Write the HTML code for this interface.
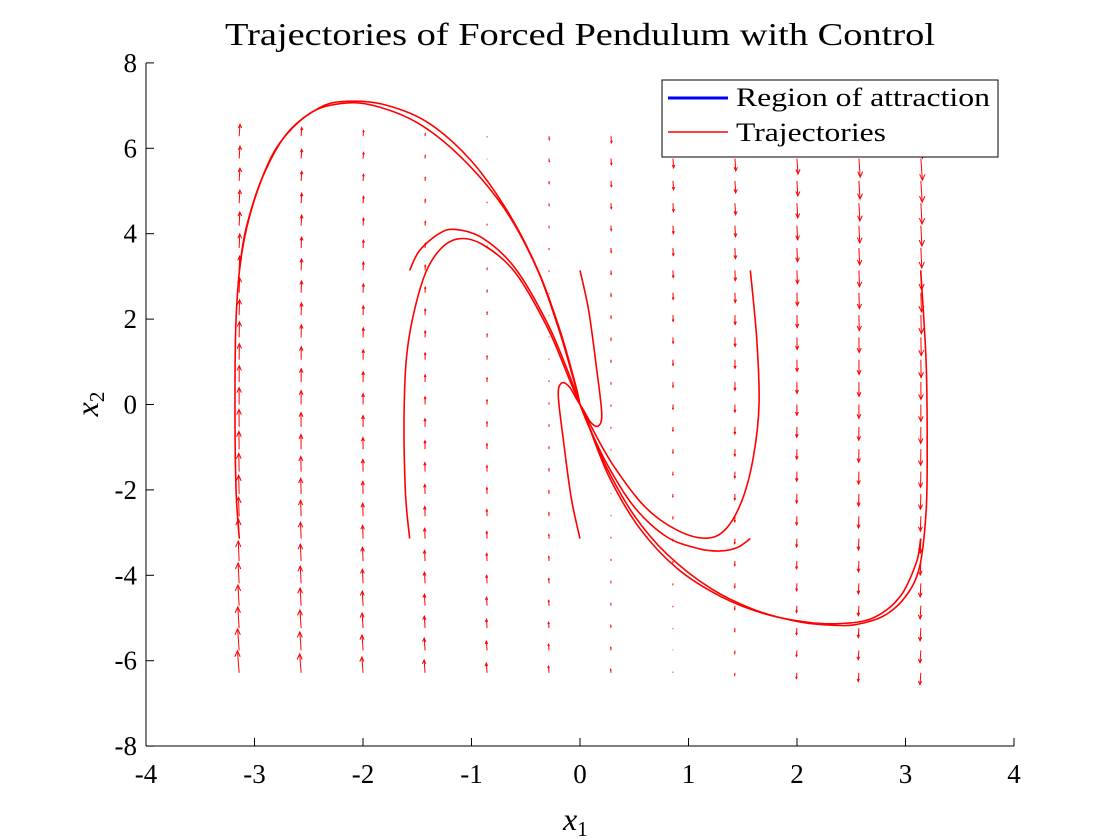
<!DOCTYPE html>
<html><head><meta charset="utf-8"><style>
html,body{margin:0;padding:0;background:#fff;}
svg{display:block;font-family:"Liberation Serif",serif;}
</style></head><body>
<svg id="chart" width="1120" height="840" viewBox="0 0 1120 840" xmlns="http://www.w3.org/2000/svg">
<rect width="1120" height="840" fill="#fff"/>
<text x="225" y="45" font-size="32" textLength="710" lengthAdjust="spacingAndGlyphs">Trajectories of Forced Pendulum with Control</text>
<g id="field"></g>
<g id="traj"></g>
<g id="axes"></g>
<text x="563" y="830" font-size="32" font-style="italic">x<tspan font-size="21" dy="6" font-style="normal">1</tspan></text>
<text transform="translate(98,404) rotate(-90)" font-size="32" font-style="italic" text-anchor="middle">x<tspan font-size="21" dy="6" font-style="normal">2</tspan></text>
<g>
<rect x="662" y="80" width="336" height="77" fill="#fff" stroke="#000" stroke-width="1"/>
<line x1="668" y1="98" x2="728" y2="98" stroke="#0000ff" stroke-width="3"/>
<text x="736" y="106" font-size="26" textLength="254" lengthAdjust="spacingAndGlyphs">Region of attraction</text>
<line x1="668" y1="132" x2="728" y2="132" stroke="#ff0000" stroke-width="1.5"/>
<text x="736" y="141" font-size="26" textLength="150" lengthAdjust="spacingAndGlyphs">Trajectories</text>
</g>
</svg>
<script>
const xTicks=[-4,-3,-2,-1,0,1,2,3,4];
const yTicks=[-8,-6,-4,-2,0,2,4,6,8];
const trajOuterA=[[-3.14,-3.14],[-3.17,-2],[-3.18,0],[-3.17,2],[-3.12,3.5],[-3.0,4.8],[-2.8,6.0],[-2.5,6.8],[-2.2,7.05],[-1.9,7.0],[-1.5,6.6],[-1.1,5.8],[-0.7,4.6],[-0.4,3.2],[-0.2,1.8],[-0.05,0.5],[0,0]];
const trajOuterB=[[-3.14,3.14],[-3.08,4.1],[-2.93,5.3],[-2.7,6.35],[-2.4,6.95],[-2.15,7.1],[-1.8,7.02],[-1.4,6.6],[-1.0,5.7],[-0.65,4.45],[-0.38,3.1],[-0.18,1.7],[-0.04,0.45],[0,0]];
const trajMidA=[[-1.57,3.14],[-1.48,3.6],[-1.3,4.0],[-1.15,4.1],[-0.9,3.9],[-0.6,3.2],[-0.3,1.9],[-0.1,0.7],[0,0]];
const trajMidB=[[-1.57,-3.14],[-1.61,-2],[-1.62,0],[-1.58,1.5],[-1.45,2.9],[-1.3,3.6],[-1.12,3.88],[-0.9,3.75],[-0.6,3.1],[-0.3,1.8],[-0.1,0.6],[0,0]];
const trajInnerA=[[0,3.14],[0.08,2.2],[0.15,0.9],[0.2,-0.2],[0.17,-0.5],[0.1,-0.42],[0.03,-0.12],[0,0]];
const trajInnerB=[[0,-3.14],[-0.08,-2.2],[-0.15,-0.9],[-0.2,0.2],[-0.17,0.5],[-0.1,0.42],[-0.03,0.12],[0,0]];
const trajMidC=[[1.57,3.14],[1.63,1.5],[1.65,0],[1.6,-1.2],[1.5,-2.2],[1.35,-2.9],[1.17,-3.13],[0.9,-2.95],[0.6,-2.4],[0.3,-1.4],[0.1,-0.5],[0,0]];
const trajMidD=[[1.57,-3.14],[1.45,-3.35],[1.3,-3.43],[1.1,-3.38],[0.8,-3.1],[0.5,-2.4],[0.25,-1.4],[0.08,-0.5],[0,0]];
const trajOuterC=[[3.14,3.14],[3.19,1],[3.2,-1],[3.19,-2.5],[3.13,-3.8],[3.0,-4.5],[2.8,-4.95],[2.55,-5.15],[2.33,-5.17],[2.0,-5.08],[1.6,-4.8],[1.2,-4.3],[0.8,-3.5],[0.5,-2.6],[0.25,-1.5],[0.08,-0.5],[0,0]];
const trajOuterD=[[3.14,-3.14],[3.1,-3.7],[2.95,-4.5],[2.7,-5.0],[2.4,-5.13],[2.1,-5.1],[1.7,-4.9],[1.3,-4.5],[0.9,-3.85],[0.55,-2.9],[0.27,-1.7],[0.08,-0.5],[0,0]];
const fieldX=[-3.1416,-2.5704,-1.9992,-1.4280,-0.8568,-0.2856,0.2856,0.8568,1.4280,1.9992,2.5704,3.1416];
const fieldYCount=25, fieldYMax=6.2832;
const NS="http://www.w3.org/2000/svg";
const X=v=>580+v*108.5, Y=v=>404.5-v*42.7;
function mk(t,a,p){const e=document.createElementNS(NS,t);for(const k in a)e.setAttribute(k,a[k]);p.appendChild(e);return e;}
const axes=document.getElementById('axes');
let l=mk('line',{x1:146,y1:746,x2:1014,y2:746,stroke:'#000','stroke-width':1},axes);


l=mk('line',{x1:146,y1:63,x2:146,y2:746,stroke:'#000','stroke-width':1},axes);


xTicks.forEach(v=>{mk('line',{x1:X(v),y1:746,x2:X(v),y2:738,stroke:'#000'},axes);
 const t=mk('text',{x:X(v),y:783,'font-size':27,'text-anchor':'middle'},axes);t.textContent=v;
 
 });
yTicks.forEach(v=>{mk('line',{x1:146,y1:Y(v),x2:154,y2:Y(v),stroke:'#000'},axes);
 const t=mk('text',{x:137,y:Y(v)+9,'font-size':27,'text-anchor':'end'},axes);t.textContent=v;
 
 });
const tg=document.getElementById('traj');
const sets=[trajOuterA,trajOuterB,trajMidA,trajMidB,trajInnerA,trajInnerB,trajMidC,trajMidD,trajOuterC,trajOuterD];
sets.forEach(arr=>{
 let d='M'+X(arr[0][0])+','+Y(arr[0][1]);
 for(let i=0;i<arr.length-1;i++){
  const p0=arr[Math.max(i-1,0)],p1=arr[i],p2=arr[i+1],p3=arr[Math.min(i+2,arr.length-1)];
  const c1=[X(p1[0])+(X(p2[0])-X(p0[0]))/6,Y(p1[1])+(Y(p2[1])-Y(p0[1]))/6];
  const c2=[X(p2[0])-(X(p3[0])-X(p1[0]))/6,Y(p2[1])-(Y(p3[1])-Y(p1[1]))/6];
  d+=' C'+c1+' '+c2+' '+X(p2[0])+','+Y(p2[1]);}
 const p=mk('path',{d:d,fill:'none',stroke:'#ff0000','stroke-width':1.6},tg);
 
 
});
const fg=document.getElementById('field');
fieldX.forEach(x=>{
 for(let j=0;j<fieldYCount;j++){
  const y=-fieldYMax+2*fieldYMax*j/(fieldYCount-1);
  const v=-(x+0.15*y);
  const len=v*5.4;
  const dx=0.06*y*Math.abs(len)/5;
  const x0=X(x),y0=Y(y);
  const x1=x0+dx,y1=y0-len;
  const g=mk('g',{},fg);
  
  
  mk('line',{x1:x0,y1:y0,x2:x1,y2:y1,stroke:'#ff0000','stroke-width':1},g);
  const s=Math.sign(len)||1,h=Math.min(Math.abs(len)*0.3,6);
  mk('polyline',{points:(x1-h*0.45)+','+(y1+s*h)+' '+x1+','+y1+' '+(x1+h*0.45)+','+(y1+s*h),fill:'none',stroke:'#ff0000','stroke-width':1},g);
 }
});
</script>
</body></html>
